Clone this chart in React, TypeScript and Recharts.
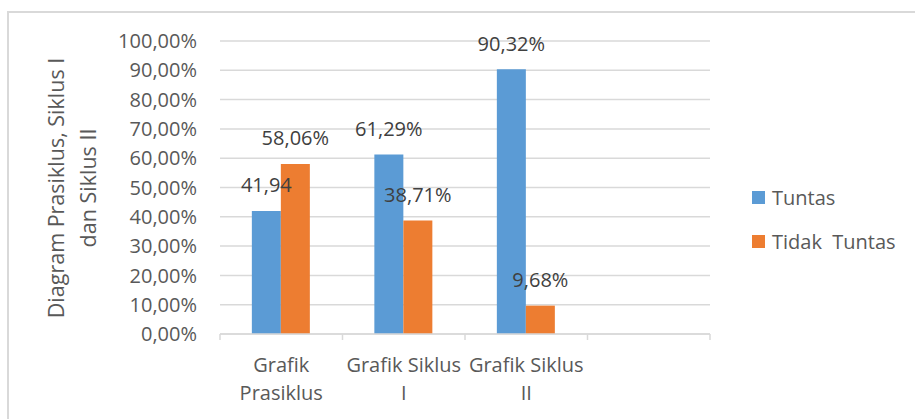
import { Bar, BarChart, CartesianGrid, LabelList, XAxis, YAxis } from "recharts";

const categories = ["Grafik Prasiklus", "Grafik Siklus I", "Grafik Siklus II", ""];
const catLines = [["Grafik", "Prasiklus"], ["Grafik Siklus", "I"], ["Grafik Siklus", "II"], []];
const tuntas = [0.4194, 0.6129, 0.9032, null];
const tidakTuntas = [0.5806, 0.3871, 0.0968, null];
const tuntasLabels = ["41,94", "61,29%", "90,32%", ""];
const tidakLabels = ["58,06%", "38,71%", "9,68%", ""];
const yTicks = [0, 0.1, 0.2, 0.3, 0.4, 0.5, 0.6, 0.7, 0.8, 0.9, 1];
const legendItems = ["Tuntas", "Tidak  Tuntas"];

const BLUE = "#5B9BD5";
const ORANGE = "#ED7D31";
const GRID = "#D9D9D9";
const TEXT = "#595959";
const FONT = "'Open Sans', sans-serif";
const FS = 20;

const data = categories.map((c, i) => ({
  cat: c,
  tuntas: tuntas[i],
  tidak: tidakTuntas[i],
  tuntasLabel: tuntasLabels[i],
  tidakLabel: tidakLabels[i],
}));

const W = 915;
const H = 419;
const margin = { top: 41, right: 205, left: 0, bottom: 0 };
const Y_W = 220;
const band = (W - margin.right - Y_W) / categories.length;

const fmtPct = (v: number) => (v * 100).toFixed(2).replace(".", ",") + "%";

// tick y arrives below the axis by tickSize + tickMargin (8px)
const XTick = (props: any) => {
  const { x, y, payload, index } = props;
  const i = payload?.index ?? index;
  const lines = catLines[i] || [];
  const last = i === categories.length - 1;
  return (
    <g>
      <line x1={x - band / 2} x2={x - band / 2} y1={y - 8} y2={y - 2} stroke={GRID} strokeWidth={1.5} />
      {last && (
        <line x1={x + band / 2} x2={x + band / 2} y1={y - 8} y2={y - 2} stroke={GRID} strokeWidth={1.5} />
      )}
      {lines.map((l: string, k: number) => (
        <text
          key={k}
          x={x}
          y={y + 25 + k * 28}
          textAnchor="middle"
          dominantBaseline="middle"
          fill={TEXT}
          fontSize={FS}
          fontFamily={FONT}
        >
          {l}
        </text>
      ))}
    </g>
  );
};

const makeLabel = (key: "tuntasLabel" | "tidakLabel") => (props: any) => {
  const { x, y, width, index } = props;
  const text = data[index]?.[key];
  if (!text) return null;
  return (
    <text
      x={x + width / 2}
      y={y - 24}
      textAnchor="middle"
      dominantBaseline="middle"
      fill="#404040"
      fontSize={FS}
      fontFamily={FONT}
    >
      {text}
    </text>
  );
};

const YTitle = () => (
  <g>
    <text
      transform="translate(58,188) rotate(-90)"
      textAnchor="middle"
      dominantBaseline="middle"
      fill={TEXT}
      fontSize={21.5}
      fontFamily={FONT}
    >
      Diagram Prasiklus, Siklus I
    </text>
    <text
      transform="translate(90,188) rotate(-90)"
      textAnchor="middle"
      dominantBaseline="middle"
      fill={TEXT}
      fontSize={21.5}
      fontFamily={FONT}
    >
      dan Siklus II
    </text>
  </g>
);

export default function App() {
  const colors = [BLUE, ORANGE];
  return (
    <div style={{ position: "absolute", left: 0, top: 0, width: W, height: H, overflow: "hidden", background: "#fff" }}>
      <div
        style={{
          position: "absolute",
          left: 7,
          top: 11,
          width: W + 20,
          height: H + 20,
          borderTop: `2px solid ${GRID}`,
          borderLeft: `2px solid ${GRID}`,
        }}
      />
      <div style={{ position: "absolute", left: 0, top: 0 }}>
        <BarChart width={W} height={H} data={data} margin={margin} barCategoryGap="26%" barGap={0}>
          <CartesianGrid vertical={false} stroke={GRID} strokeWidth={1.5} />
          <XAxis
            dataKey="cat"
            interval={0}
            tickLine={false}
            axisLine={{ stroke: GRID, strokeWidth: 1.5 }}
            tick={<XTick />}
            height={85}
          />
          <YAxis
            domain={[0, 1]}
            ticks={yTicks}
            interval={0}
            tickFormatter={fmtPct}
            axisLine={false}
            tickLine={false}
            tickSize={6}
            tickMargin={17}
            width={Y_W}
            tick={{ fill: TEXT, fontSize: FS, fontFamily: FONT }}
            label={{ content: () => <YTitle /> }}
          />
          <Bar dataKey="tuntas" fill={BLUE} isAnimationActive={false}>
            <LabelList dataKey="tuntasLabel" content={makeLabel("tuntasLabel")} />
          </Bar>
          <Bar dataKey="tidak" fill={ORANGE} isAnimationActive={false}>
            <LabelList dataKey="tidakLabel" content={makeLabel("tidakLabel")} />
          </Bar>
        </BarChart>
      </div>
      <div style={{ position: "absolute", left: 752, top: 175, fontFamily: FONT, fontSize: FS, color: TEXT }}>
        {legendItems.map((name, i) => (
          <div key={name} style={{ display: "flex", alignItems: "center", height: 44, whiteSpace: "pre" }}>
            <span style={{ width: 13, height: 13, background: colors[i], marginRight: 7, display: "inline-block" }} />
            {name}
          </div>
        ))}
      </div>
    </div>
  );
}
